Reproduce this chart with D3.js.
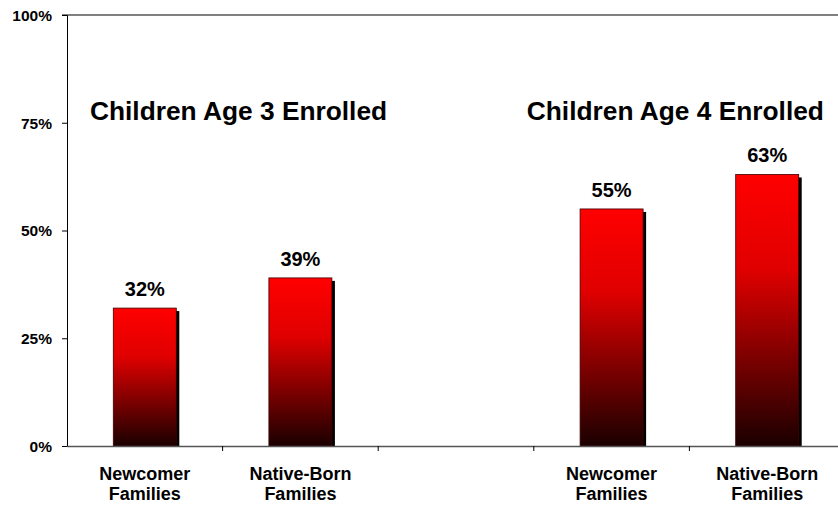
<!DOCTYPE html>
<html><head><meta charset="utf-8">
<script src="https://cdn.jsdelivr.net/npm/d3@7"></script>
<style>
html,body{margin:0;padding:0;background:#fff;}
text{font-family:"Liberation Sans",Arial,sans-serif;font-weight:bold;fill:#000;}
</style></head><body>
<svg id="c" width="838" height="510"></svg>
<script>
const categories = ["c1","c2","gap","c4","c5"];
const catLines = [["Newcomer","Families"],["Native-Born","Families"],["",""],["Newcomer","Families"],["Native-Born","Families"]];
const values = [32, 39, null, 55, 63];
const yTicks = [0, 25, 50, 75, 100];
const groupTitles = ["Children Age 3 Enrolled", "Children Age 4 Enrolled"];

const svg = d3.select("#c");
const x0 = 67, x1 = 845, yTop = 15, yBot = 446;
const x = d3.scaleBand().domain(categories).range([x0, x1]).paddingInner(0).paddingOuter(0);
const y = d3.scaleLinear().domain([0, 100]).range([yBot, yTop]);

const defs = svg.append("defs");
const g = defs.append("linearGradient").attr("id","grad").attr("x1",0).attr("y1",0).attr("x2",0).attr("y2",1);
g.append("stop").attr("offset","0%").attr("stop-color","#ff0000");
g.append("stop").attr("offset","35%").attr("stop-color","#e00000");
g.append("stop").attr("offset","100%").attr("stop-color","#1a0000");

// top border line
svg.append("line").attr("x1",x0-5).attr("x2",838).attr("y1",y(100)).attr("y2",y(100))
  .attr("stroke","#808080").attr("stroke-width",2);

const bw = x.bandwidth()*0.405;
const data = categories.map((c,i)=>({c, v: values[i]})).filter(d=>d.v!==null);

// shadows
svg.selectAll("rect.sh").data(data).enter().append("rect")
  .attr("x", d=>x(d.c)+x.bandwidth()/2-bw/2+3)
  .attr("y", d=>y(d.v)+3)
  .attr("width", bw).attr("height", d=>yBot-y(d.v)-3)
  .attr("fill","#000");
svg.selectAll("rect.bar").data(data).enter().append("rect")
  .attr("x", d=>x(d.c)+x.bandwidth()/2-bw/2)
  .attr("y", d=>y(d.v))
  .attr("width", bw).attr("height", d=>yBot-y(d.v))
  .attr("fill","url(#grad)").attr("stroke","#400000").attr("stroke-width",0.8);

svg.selectAll("text.val").data(data).enter().append("text")
  .attr("x", d=>x(d.c)+x.bandwidth()/2)
  .attr("y", d=>y(d.v)-12)
  .attr("text-anchor","middle").attr("font-size",20)
  .text(d=>d.v+"%");

// y axis
const ya = d3.axisLeft(y).tickValues(yTicks).tickSize(5).tickFormat(d=>d+"%");
const yg = svg.append("g").attr("transform",`translate(${x0},0)`).call(ya);
yg.attr("font-size",null).attr("font-family",null);
yg.select(".domain").attr("stroke","#000");
yg.selectAll(".tick line").attr("stroke","#000");
yg.selectAll(".tick text").attr("x",-15).attr("dy","0.35em")
  .style("font-size","15.5px")
  .style("font-family","'Liberation Sans',Arial,sans-serif").style("font-weight","bold");

// x axis
const xa = d3.axisBottom(x).tickSize(0).tickFormat("");
const xg = svg.append("g").attr("transform",`translate(0,${yBot})`).call(xa);
xg.select(".domain").attr("stroke","#555").attr("stroke-width",1.5);
xg.selectAll(".tick").remove();
// boundary ticks
const bounds = categories.map(c=>x(c)).slice(1);
svg.selectAll("line.bt").data(bounds).enter().append("line")
  .attr("x1",d=>d).attr("x2",d=>d).attr("y1",yBot).attr("y2",yBot+5).attr("stroke","#000");

// category labels
categories.forEach((c,i)=>{
  const cx = x(c)+x.bandwidth()/2;
  const t = svg.append("text").attr("text-anchor","middle").attr("font-size",18)
    .attr("x", cx).attr("y", 480);
  t.append("tspan").attr("x", cx).text(catLines[i][0]);
  t.append("tspan").attr("x", cx).attr("dy",20).text(catLines[i][1]);
});

// group titles
svg.append("text").attr("x", x(categories[0]) + 23).attr("y", 120).attr("font-size",26.3).text(groupTitles[0]);
svg.append("text").attr("x", x(categories[3]) - 7).attr("y", 120).attr("font-size",26.3).text(groupTitles[1]);
</script></body></html>
